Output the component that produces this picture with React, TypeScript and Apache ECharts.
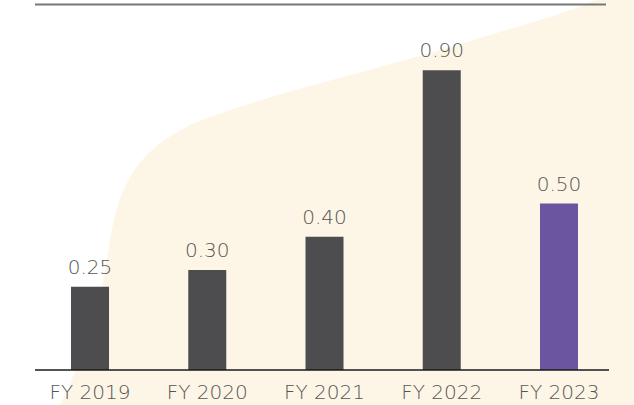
import React, { useEffect, useRef } from "react";
import * as echarts from "echarts";

const categories = ["FY 2019", "FY 2020", "FY 2021", "FY 2022", "FY 2023"];
const values = [0.25, 0.3, 0.4, 0.9, 0.5];
const highlighted = ["FY 2023"];

const BAR_DARK = "#4d4d4f";
const BAR_PURPLE = "#6b55a1";
const TEXT = "#555555";
const CREAM = "#fdf6e6";
const FONT = "'DejaVu Sans', sans-serif";

const bgPath =
  "M 60 405 C 92 340, 102 295, 110 240 C 120 180, 140 150, 190 125 C 260 95, 380 70, 480 38 C 540 20, 575 10, 595 0 L 634 0 L 634 405 Z";

let registered = false;
function ensureShape() {
  if (registered) return;
  echarts.graphic.registerShape("bgshape", echarts.graphic.extendPath(bgPath, {}));
  registered = true;
}

export default function App() {
  const ref = useRef<HTMLDivElement>(null);
  useEffect(() => {
    if (!ref.current) return;
    ensureShape();
    const chart = echarts.init(ref.current, undefined, { renderer: "svg" });
    chart.setOption({
      animation: false,
      backgroundColor: "#ffffff",
      graphic: [
        { type: "bgshape", x: 0, y: 0, z: -10, silent: true, style: { fill: CREAM } },
        {
          type: "line",
          z: 10,
          shape: { x1: 35, y1: 4.5, x2: 606, y2: 4.5 },
          style: { stroke: "#777777", lineWidth: 2 },
        },
        {
          type: "line",
          z: 10,
          shape: { x1: 35, y1: 370, x2: 609, y2: 370 },
          style: { stroke: "#1a1a1a", lineWidth: 1.5 },
        },
      ],
      grid: { left: 31.4, right: 16.4, top: 37, bottom: 35, containLabel: false },
      xAxis: {
        type: "category",
        data: categories,
        axisLine: { show: false },
        axisTick: { show: false },
        axisLabel: { color: TEXT, fontSize: 20, fontFamily: FONT, fontWeight: 200, margin: 12 },
      },
      yAxis: {
        type: "value",
        min: 0,
        max: 1,
        show: false,
        splitLine: { show: false },
      },
      series: [
        {
          type: "bar",
          barWidth: 38,
          data: values.map((v, i) => ({
            value: v,
            itemStyle: { color: highlighted.includes(categories[i]) ? BAR_PURPLE : BAR_DARK },
          })),
          label: {
            show: true,
            position: "top",
            distance: 10,
            color: TEXT,
            fontSize: 20,
            fontFamily: FONT,
            fontWeight: 200,
            formatter: (p: any) => Number(p.value).toFixed(2),
          },
        },
      ],
    });
    return () => chart.dispose();
  }, []);
  return <div ref={ref} style={{ width: 634, height: 405, position: "absolute", left: 0, top: 0 }} />;
}
